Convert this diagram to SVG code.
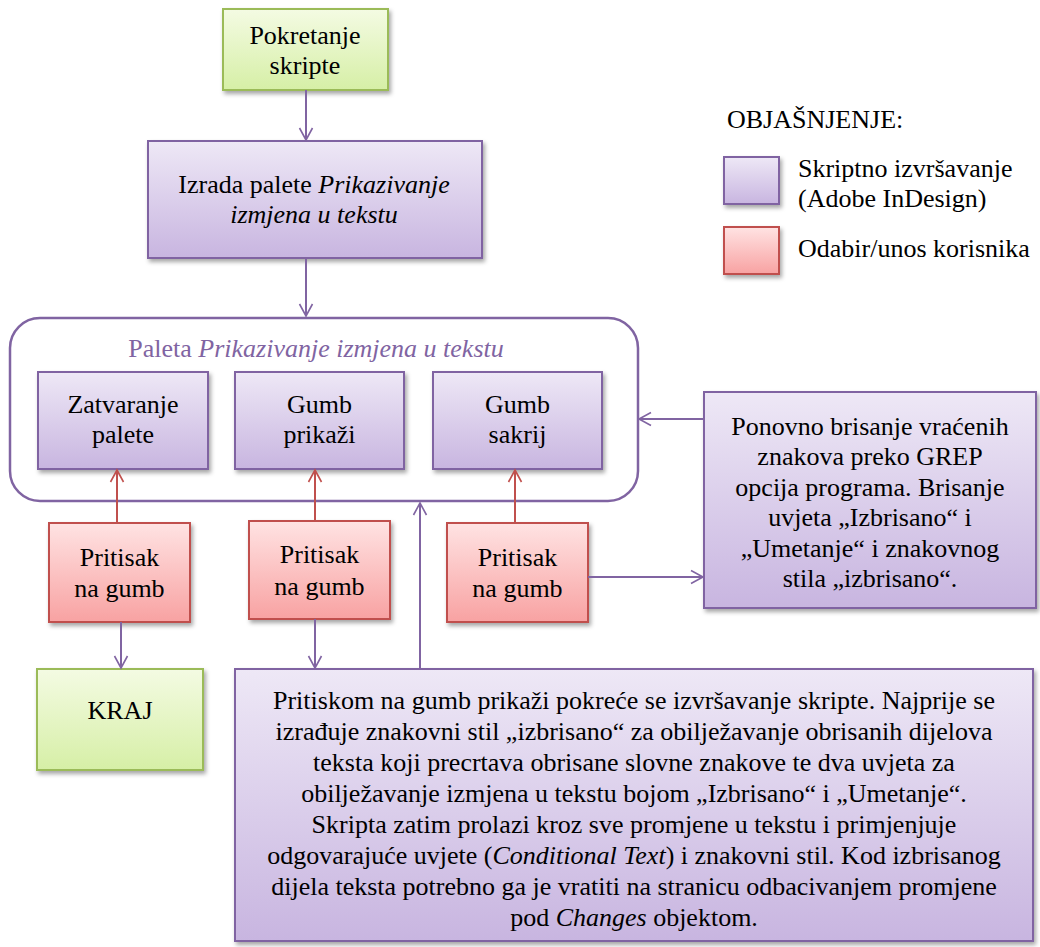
<svg xmlns="http://www.w3.org/2000/svg" width="1040" height="947" viewBox="0 0 1040 947">
<defs>
<linearGradient id="gP" x1="0" y1="0" x2="0" y2="1"><stop offset="0" stop-color="#EEE8F6"/><stop offset="1" stop-color="#C8B5E0"/></linearGradient>
<linearGradient id="gR" x1="0" y1="0" x2="0" y2="1"><stop offset="0" stop-color="#FFE3E3"/><stop offset="1" stop-color="#F8A2A2"/></linearGradient>
<linearGradient id="gG" x1="0" y1="0" x2="0" y2="1"><stop offset="0" stop-color="#F4FBE3"/><stop offset="1" stop-color="#D6EFA6"/></linearGradient>
<filter id="sh" x="-10%" y="-10%" width="130%" height="130%"><feDropShadow dx="2" dy="3" stdDeviation="2" flood-color="#000" flood-opacity="0.35"/></filter>
<marker id="ap" markerWidth="16" markerHeight="16" refX="13" refY="8" orient="auto" markerUnits="userSpaceOnUse"><path d="M1,1.5 L13,8 L1,14.5" fill="none" stroke="#8064A2" stroke-width="1.6"/></marker>
<marker id="ar" markerWidth="16" markerHeight="16" refX="13" refY="8" orient="auto" markerUnits="userSpaceOnUse"><path d="M1,1.5 L13,8 L1,14.5" fill="none" stroke="#C0504D" stroke-width="1.6"/></marker>
</defs>
<style>
text{font-family:"Times New Roman",Times,Tinos,"Liberation Serif","Noto Serif","DejaVu Serif",FreeSerif,"Nimbus Roman",serif;font-size:26px;fill:#000;text-anchor:middle}
text.l{text-anchor:start}
.i{font-style:italic}
text.t{fill:#8064A2}
.p{fill:url(#gP);stroke:#8064A2;stroke-width:2;filter:url(#sh)}
.r{fill:url(#gR);stroke:#C0504D;stroke-width:2;filter:url(#sh)}
.g{fill:url(#gG);stroke:#9BBB59;stroke-width:2;filter:url(#sh)}
.cp{stroke:#8064A2;stroke-width:2;fill:none;marker-end:url(#ap)}
.cr{stroke:#C0504D;stroke-width:2;fill:none;marker-end:url(#ar)}
</style>
<rect width="1040" height="947" fill="#fff"/>

<g id="palette">
<rect x="10" y="318" width="628" height="183" rx="30" fill="none" stroke="#8064A2" stroke-width="2.5"/>
<text class="t" x="316" y="357">Paleta <tspan class="i">Prikazivanje izmjena u tekstu</tspan></text>
</g>

<g id="start"><rect class="g" x="223" y="9" width="165" height="81"/>
<text x="305" y="44">Pokretanje</text><text x="305" y="74">skripte</text></g>

<g id="izrada"><rect class="p" x="148" y="141" width="334" height="117"/>
<text x="314" y="193">Izrada palete <tspan class="i">Prikazivanje</tspan></text><text x="314" y="223" class="i">izmjena u tekstu</text></g>

<g id="zatvaranje"><rect class="p" x="38" y="372" width="170" height="97"/>
<text x="123" y="413">Zatvaranje</text><text x="123" y="443">palete</text></g>
<g id="prikazi"><rect class="p" x="235" y="372" width="169" height="97"/>
<text x="319.5" y="413">Gumb</text><text x="319.5" y="443">prikaži</text></g>
<g id="sakrij"><rect class="p" x="433" y="372" width="169" height="97"/>
<text x="517.5" y="413">Gumb</text><text x="517.5" y="443">sakrij</text></g>

<g id="pritisak1"><rect class="r" x="49" y="523" width="141" height="99"/>
<text x="119.5" y="566">Pritisak</text><text x="119.5" y="597">na gumb</text></g>
<g id="pritisak2"><rect class="r" x="249" y="521" width="141" height="98"/>
<text x="319.5" y="563">Pritisak</text><text x="319.5" y="595">na gumb</text></g>
<g id="pritisak3"><rect class="r" x="447" y="523" width="141" height="99"/>
<text x="517.5" y="566">Pritisak</text><text x="517.5" y="597">na gumb</text></g>

<g id="kraj"><rect class="g" x="37" y="669" width="166" height="101"/>
<text x="120" y="719">KRAJ</text></g>

<g id="ponovno"><rect class="p" x="704" y="392" width="332" height="216"/>
<text x="870" y="435">Ponovno brisanje vraćenih</text>
<text x="870" y="465">znakova preko GREP</text>
<text x="870" y="496">opcija programa. Brisanje</text>
<text x="870" y="526">uvjeta „Izbrisano“ i</text>
<text x="870" y="557">„Umetanje“ i znakovnog</text>
<text x="870" y="587">stila „izbrisano“.</text></g>

<g id="opis"><rect class="p" x="235" y="669" width="798" height="272"/>
<text x="634" y="709">Pritiskom na gumb prikaži pokreće se izvršavanje skripte. Najprije se</text>
<text x="634" y="740">izrađuje znakovni stil „izbrisano“ za obilježavanje obrisanih dijelova</text>
<text x="634" y="771">teksta koji precrtava obrisane slovne znakove te dva uvjeta za</text>
<text x="634" y="802">obilježavanje izmjena u tekstu bojom „Izbrisano“ i „Umetanje“.</text>
<text x="634" y="833">Skripta zatim prolazi kroz sve promjene u tekstu i primjenjuje</text>
<text x="634" y="864">odgovarajuće uvjete (<tspan class="i">Conditional Text</tspan>) i znakovni stil. Kod izbrisanog</text>
<text x="634" y="895">dijela teksta potrebno ga je vratiti na stranicu odbacivanjem promjene</text>
<text x="634" y="926">pod <tspan class="i">Changes</tspan> objektom.</text></g>

<g id="legend">
<text class="l" x="727" y="128">OBJAŠNJENJE:</text>
<rect class="p" x="724" y="157" width="55" height="47"/>
<text class="l" x="798" y="177">Skriptno izvršavanje</text>
<text class="l" x="798" y="207">(Adobe InDesign)</text>
<rect class="r" x="724" y="227" width="55" height="47"/>
<text class="l" x="798" y="257">Odabir/unos korisnika</text>
</g>

<g id="connectors">
<path class="cp" d="M306,90 V140"/>
<path class="cp" d="M306,258 V316"/>
<path class="cr" d="M117,523 V470"/>
<path class="cr" d="M315,521 V470"/>
<path class="cr" d="M515,523 V470"/>
<path class="cp" d="M121,622 V668"/>
<path class="cp" d="M315,619 V668"/>
<path class="cp" d="M420,669 V503"/>
<path class="cp" d="M588,577 H703"/>
<path class="cp" d="M704,419 H639"/>
</g>
</svg>
